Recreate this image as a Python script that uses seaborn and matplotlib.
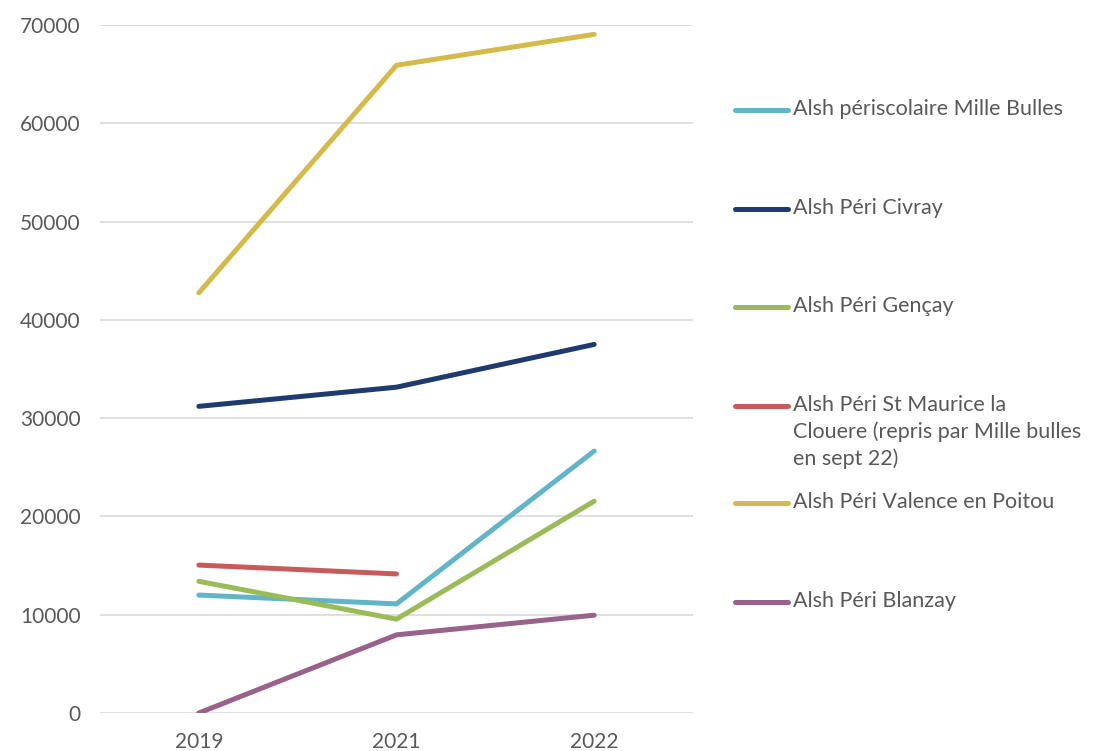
import pandas as pd
import matplotlib
matplotlib.use("Agg")
import matplotlib.pyplot as plt
import seaborn as sns
from matplotlib.lines import Line2D

years = ["2019", "2021", "2022"]
series_names = [
    "Alsh périscolaire Mille Bulles",
    "Alsh Péri Civray",
    "Alsh Péri Gençay",
    "Alsh Péri St Maurice la\nClouere (repris par Mille bulles\nen sept 22)",
    "Alsh Péri Valence en Poitou",
    "Alsh Péri Blanzay",
]
mille_bulles = [12000, 11100, 26650]
civray = [31200, 33150, 37500]
gencay = [13400, 9550, 21550]
st_maurice = [15050, 14150, None]
valence = [42750, 65900, 69050]
blanzay = [0, 7950, 9950]
colors = ["#62B5C8", "#1F3A6E", "#9BBB59", "#C75B5B", "#D4BA4A", "#98628A"]

all_values = [mille_bulles, civray, gencay, st_maurice, valence, blanzay]
rows = []
for name, vals in zip(series_names, all_values):
    for yr, v in zip(years, vals):
        rows.append({"year": yr, "value": v, "series": name})
df = pd.DataFrame(rows).dropna()

sns.set_style("white")
plt.rcParams["font.family"] = ["Lato", "DejaVu Sans"]
grey = "#595959"

fig = plt.figure(figsize=(11.04, 7.51), dpi=100)
ax = fig.add_axes([100 / 1104, 38 / 751, 593 / 1104, 688 / 751])

sns.lineplot(data=df, x="year", y="value", hue="series", hue_order=series_names,
             palette=dict(zip(series_names, colors)), sort=False, linewidth=3.6,
             solid_capstyle="round", legend=False, ax=ax)

ax.set_xlim(-0.5, 2.5)
ax.set_ylim(0, 70000)
ax.set_yticks(range(0, 70001, 10000))
ax.grid(axis="y", color="#D9D9D9", linewidth=1.2)
ax.set_axisbelow(True)
for s in ax.spines.values():
    s.set_visible(False)
ax.set_xlabel("")
ax.set_ylabel("")
ax.tick_params(axis="both", length=0, labelsize=15, colors=grey, pad=14)
ax.tick_params(axis="y", pad=14)

# legend drawn entry by entry (Excel-style spacing)
leg_y = [110, 209, 307, 406, 503, 602]
for name, c, py in zip(series_names, colors, leg_y):
    yf = 1 - py / 751
    fig.add_artist(Line2D([735 / 1104, 788 / 1104], [yf, yf], color=c, linewidth=3.6,
                          solid_capstyle="round", transform=fig.transFigure))
    fig.text(793 / 1104, yf + 11 / 751, name, ha="left", va="top", fontsize=15.5,
             color=grey, linespacing=1.4)

fig.savefig("out.png", dpi=100)
